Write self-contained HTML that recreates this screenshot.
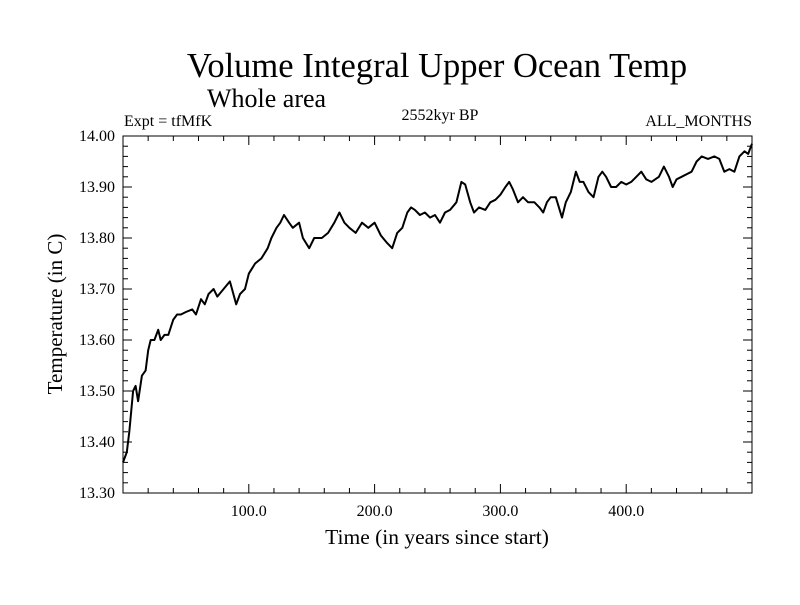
<!DOCTYPE html>
<html><head><meta charset="utf-8"><style>
body{margin:0;background:#fff}
svg text{font-family:"Liberation Serif",serif;fill:#000}
</style></head><body>
<svg width="800" height="600">
<text x="437" y="77" font-size="34.5" text-anchor="middle">Volume Integral Upper Ocean Temp</text>
<text x="207" y="107" font-size="26">Whole area</text>
<text x="124" y="126" font-size="16">Expt = tfMfK</text>
<text x="440" y="120" font-size="16" text-anchor="middle">2552kyr BP</text>
<text x="752" y="126" font-size="16" text-anchor="end">ALL_MONTHS</text>
<text x="437" y="544" font-size="21.5" text-anchor="middle">Time (in years since start)</text>
<text transform="translate(62,314) rotate(-90)" font-size="21" text-anchor="middle">Temperature (in C)</text>
<g id="axes"></g>
<path id="line" fill="none" stroke="#000" stroke-width="2" stroke-linejoin="round"/>
<rect x="123" y="136" width="629" height="357" fill="none" stroke="#000" stroke-width="1"/>
</svg>
<script>
const years=[0,3,5,8,10,12,15,18,20,22,25,28,30,33,36,40,43,46,50,55,58,62,65,68,72,75,80,85,90,93,97,100,105,110,115,118,122,125,128,132,135,140,143,148,152,158,163,168,172,176,180,185,190,195,200,205,210,214,218,222,226,229,232,236,240,244,248,252,256,260,265,269,272,276,279,283,288,292,296,300,304,307,310,314,318,322,327,331,334,337,340,344,349,352,356,360,363,366,370,374,378,381,384,388,392,396,400,404,408,412,416,420,426,430,434,437,440,444,448,452,456,460,465,470,474,478,482,486,490,494,497,500];
const temps=[13.36,13.38,13.42,13.50,13.51,13.48,13.53,13.54,13.58,13.60,13.60,13.62,13.60,13.61,13.61,13.64,13.65,13.65,13.655,13.66,13.65,13.68,13.67,13.69,13.70,13.685,13.70,13.715,13.67,13.69,13.70,13.73,13.75,13.76,13.78,13.80,13.82,13.83,13.845,13.83,13.82,13.83,13.80,13.78,13.80,13.80,13.81,13.83,13.85,13.83,13.82,13.81,13.83,13.82,13.83,13.805,13.79,13.78,13.81,13.82,13.85,13.86,13.855,13.845,13.85,13.84,13.845,13.83,13.85,13.855,13.87,13.91,13.905,13.87,13.85,13.86,13.855,13.87,13.875,13.885,13.90,13.91,13.895,13.87,13.88,13.87,13.87,13.86,13.85,13.87,13.88,13.88,13.84,13.87,13.89,13.93,13.91,13.91,13.89,13.88,13.92,13.93,13.92,13.90,13.90,13.91,13.905,13.91,13.92,13.93,13.915,13.91,13.92,13.94,13.92,13.90,13.915,13.92,13.925,13.93,13.95,13.96,13.955,13.96,13.955,13.93,13.935,13.93,13.96,13.97,13.965,13.985];
const xTickLabels=["100.0","200.0","300.0","400.0"];
const xTickValues=[100,200,300,400];
const yTickValues=[13.30,13.40,13.50,13.60,13.70,13.80,13.90,14.00];
const X0=123,X1=752,Y0=493,Y1=136;
const xs=v=>X0+(v-0)/(500-0)*(X1-X0);
const ys=v=>Y0-(v-13.30)/(14.00-13.30)*(Y0-Y1);
const NS="http://www.w3.org/2000/svg";
const ax=document.getElementById('axes');
function ln(x1,y1,x2,y2){const l=document.createElementNS(NS,'line');l.setAttribute('x1',x1);l.setAttribute('y1',y1);l.setAttribute('x2',x2);l.setAttribute('y2',y2);l.setAttribute('stroke','#000');


ax.appendChild(l);}
for(let v=0;v<=500;v+=20){const x=xs(v);const len=(v%100===0)?9:5;ln(x,Y0,x,Y0-len);ln(x,Y1,x,Y1+len);}
for(let i=0;i<=35;i++){const v=13.30+i*0.02;const y=ys(v);const len=(i%5===0)?9:5;ln(X0,y,X0+len,y);ln(X1,y,X1-len,y);}
xTickValues.forEach((v,i)=>{const t=document.createElementNS(NS,'text');t.setAttribute('x',xs(v));t.setAttribute('y',Y0+23);t.setAttribute('font-size','16');t.setAttribute('text-anchor','middle');t.textContent=xTickLabels[i];


ax.appendChild(t);});
yTickValues.forEach(v=>{const t=document.createElementNS(NS,'text');t.setAttribute('x',X0-8);t.setAttribute('y',ys(v)+5);t.setAttribute('font-size','16');t.setAttribute('text-anchor','end');t.textContent=v.toFixed(2);


ax.appendChild(t);});
document.getElementById('line').setAttribute('d',years.map((y,i)=>(i?'L':'M')+xs(y).toFixed(1)+' '+ys(temps[i]).toFixed(1)).join(''));
</script>
</body></html>
